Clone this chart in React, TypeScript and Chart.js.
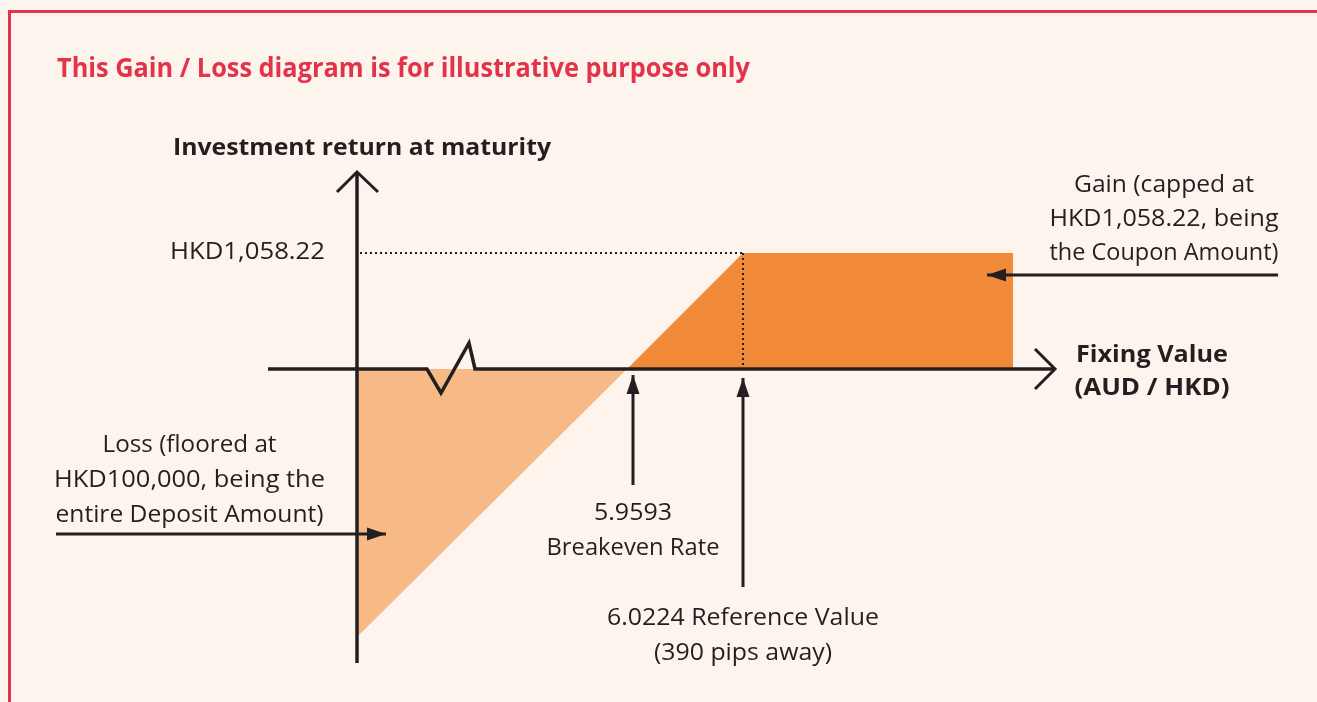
import React, { useEffect, useRef } from "react";
import { Chart, registerables } from "chart.js";

Chart.register(...registerables);

// Diagram units: x = distance right of the vertical axis, y = height above the horizontal axis
const lossAreaX = [0, 270, 0];
const lossAreaY = [0, 0, -268];
const gainAreaX = [270, 386, 656, 656];
const gainAreaY = [0, 116, 116, 0];
const couponGuideX = [3, 386];
const couponGuideY = [116, 116];
const referenceGuideX = [386, 386];
const referenceGuideY = [116, 0];
const xAxisX = [-89, 70, 84, 112, 118, 698];
const xAxisY = [0, 0, -24, 26, 0, 0];
const yAxisX = [0, 0];
const yAxisY = [197, -294];
const yArrowX = [-20, 0, 21];
const yArrowY = [177, 197, 177];
const xArrowX = [678, 698, 678];
const xArrowY = [20, 0, -20];

// annotation arrows: [shaft start, tip]
const breakevenArrowX = [276, 276];
const breakevenArrowY = [-116, -6];
const referenceArrowX = [386, 386];
const referenceArrowY = [-218, -9];
const gainArrowX = [921, 630];
const gainArrowY = [94, 94];
const lossArrowX = [-301, 29];
const lossArrowY = [-165, -165];

// texts
const titleText = "This Gain / Loss diagram is for illustrative purpose only";
const yAxisTitle = "Investment return at maturity";
const xAxisTitle = ["Fixing Value", "(AUD / HKD)"];
const couponTick = "HKD1,058.22";
const gainNote = ["Gain (capped at", "HKD1,058.22, being", "the Coupon Amount)"];
const lossNote = ["Loss (floored at", "HKD100,000, being the", "entire Deposit Amount)"];
const breakevenNote = ["5.9593", "Breakeven Rate"];
const referenceNote = ["6.0224 Reference Value", "(390 pips away)"];

// rendered widths of the lines above (px)
const xAxisTitleW = [152, 155];
const gainNoteW = [180, 229, 229];
const lossNoteW = [174, 271, 268];
const breakevenNoteW = [78, 173];
const referenceNoteW = [272, 178];

const BG = "#fdf4ee";
const RED = "#e3334a";
const INK = "#231f20";
const LIGHT_ORANGE = "#f7b985";
const DARK_ORANGE = "#f08a38";
const FONT = "'Open Sans', 'Noto Sans', sans-serif";

const pts = (xs: number[], ys: number[]) => xs.map((x, i) => ({ x, y: ys[i] }));

function arrowHead(xs: number[], ys: number[], len: number, half: number) {
  const [x0, x1] = xs;
  const [y0, y1] = ys;
  const dx = x1 - x0;
  const dy = y1 - y0;
  const d = Math.hypot(dx, dy);
  const ux = dx / d;
  const uy = dy / d;
  const bx = x1 - ux * len;
  const by = y1 - uy * len;
  return [
    { x: x1, y: y1 },
    { x: bx - uy * half, y: by + ux * half },
    { x: bx + uy * half, y: by - ux * half },
    { x: x1, y: y1 },
  ];
}

function lineDs(data: any[], width: number, extra: any = {}) {
  return {
    data,
    showLine: true,
    borderColor: INK,
    borderWidth: width,
    pointRadius: 0,
    fill: false,
    tension: 0,
    clip: false,
    order: 1,
    borderJoinStyle: "miter",
    ...extra,
  };
}

function shapeDs(data: any[], color: string, order: number) {
  return {
    data,
    showLine: true,
    borderColor: color,
    backgroundColor: color,
    borderWidth: 0,
    pointRadius: 0,
    fill: "shape",
    tension: 0,
    clip: false,
    order,
  };
}

export default function App() {
  const ref = useRef<HTMLCanvasElement | null>(null);

  useEffect(() => {
    const canvas = ref.current;
    if (!canvas) return;

    const textPlugin = {
      id: "diagramText",
      beforeDraw(chart: any) {
        const ctx = chart.ctx;
        ctx.save();
        ctx.fillStyle = BG;
        ctx.fillRect(0, 0, chart.width, chart.height);
        ctx.restore();
      },
      afterDraw(chart: any) {
        const ctx = chart.ctx;
        const xs = chart.scales.x;
        const ys = chart.scales.y;
        const px = (v: number) => xs.getPixelForValue(v);
        const py = (v: number) => ys.getPixelForValue(v);
        ctx.save();
        // frame
        ctx.strokeStyle = RED;
        ctx.lineWidth = 3;
        ctx.beginPath();
        ctx.moveTo(9.5, chart.height + 10);
        ctx.lineTo(9.5, 11.5);
        ctx.lineTo(chart.width + 10, 11.5);
        ctx.stroke();

        const put = (
          t: string,
          x: number,
          y: number,
          align: CanvasTextAlign,
          font: string,
          color: string,
          targetW: number
        ) => {
          ctx.save();
          ctx.font = font;
          ctx.fillStyle = color;
          ctx.textAlign = align;
          ctx.textBaseline = "alphabetic";
          const w = ctx.measureText(t).width;
          const s = w > 0 ? targetW / w : 1;
          ctx.translate(x, y);
          ctx.scale(s, 1);
          ctx.fillText(t, 0, 0);
          ctx.restore();
        };

        const reg = `24px ${FONT}`;
        const bold = `bold 24px ${FONT}`;
        put(titleText, px(-300), py(292), "left", `bold 26px ${FONT}`, RED, 693);
        put(yAxisTitle, px(5), py(214), "center", bold, INK, 378);
        xAxisTitle.forEach((t, i) => put(t, px(795), py(7 - i * 33), "center", bold, INK, xAxisTitleW[i]));
        put(couponTick, px(-32), py(110), "right", reg, INK, 155);
        gainNote.forEach((t, i) => put(t, px(807), py(177 - i * 34), "center", reg, INK, gainNoteW[i]));
        lossNote.forEach((t, i) => put(t, px(-167.5), py(-83 - i * 35), "center", reg, INK, lossNoteW[i]));
        breakevenNote.forEach((t, i) => put(t, px(276), py(-151 - i * 35), "center", reg, INK, breakevenNoteW[i]));
        referenceNote.forEach((t, i) => put(t, px(386), py(-256 - i * 35), "center", reg, INK, referenceNoteW[i]));
        ctx.restore();
      },
    };

    const datasets: any[] = [
      shapeDs(pts(lossAreaX, lossAreaY), LIGHT_ORANGE, 20),
      shapeDs(pts(gainAreaX, gainAreaY), DARK_ORANGE, 20),
      lineDs(pts(couponGuideX, couponGuideY), 2, { borderDash: [2, 3], borderCapStyle: "butt", order: 5 }),
      lineDs(pts(referenceGuideX, referenceGuideY), 2, { borderDash: [2, 3], borderCapStyle: "butt", order: 5 }),
      lineDs(pts(xAxisX, xAxisY), 3.5),
      lineDs(pts(yAxisX, yAxisY), 3.5),
      lineDs(pts(yArrowX, yArrowY), 3),
      lineDs(pts(xArrowX, xArrowY), 3),
      lineDs(pts(breakevenArrowX, breakevenArrowY), 3),
      shapeDs(arrowHead(breakevenArrowX, breakevenArrowY, 19, 6.5), INK, 0),
      lineDs(pts(referenceArrowX, referenceArrowY), 3),
      shapeDs(arrowHead(referenceArrowX, referenceArrowY, 19, 6.5), INK, 0),
      lineDs(pts(gainArrowX, gainArrowY), 3),
      shapeDs(arrowHead(gainArrowX, gainArrowY, 19, 6.5), INK, 0),
      lineDs(pts(lossArrowX, lossArrowY), 3),
      shapeDs(arrowHead(lossArrowX, lossArrowY, 19, 6.5), INK, 0),
    ];

    const chart = new Chart(canvas, {
      type: "scatter",
      data: { datasets },
      options: {
        responsive: false,
        maintainAspectRatio: false,
        animation: false,
        events: [],
        layout: { padding: 0 },
        plugins: { legend: { display: false }, tooltip: { enabled: false } },
        scales: {
          x: { type: "linear", min: -357, max: 960, display: false },
          y: { type: "linear", min: -333, max: 369, display: false },
        },
      },
      plugins: [textPlugin],
    } as any);

    return () => chart.destroy();
  }, []);

  return (
    <canvas
      ref={ref}
      width={1317}
      height={702}
      style={{ position: "fixed", left: 0, top: 0, display: "block" }}
    />
  );
}
